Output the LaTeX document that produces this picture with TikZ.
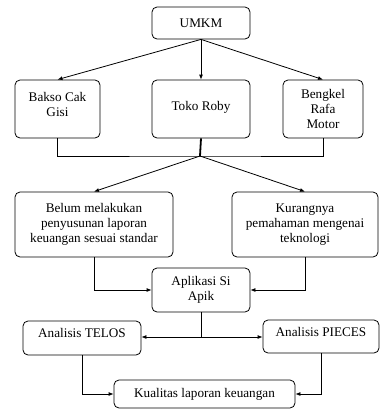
\documentclass[tikz,border=0pt]{standalone}
\usepackage{fontspec}
\setmainfont{Liberation Serif}
\usetikzlibrary{arrows.meta}
\newcommand{\lift}[2]{\raisebox{0pt}[\height][\dimexpr\depth+#1\relax]{\begin{tabular}{@{}c@{}}#2\end{tabular}}}
\begin{document}
\begin{tikzpicture}[x=1pt,y=-1pt,
  box/.style={draw,rounded corners=5pt,align=center,inner sep=1pt,line width=0.8pt,
    font=\fontsize{13.2}{15}\selectfont},
  arr/.style={-{Latex[length=5pt,width=4pt]},line width=0.8pt},
  ln/.style={line width=0.8pt}]
\useasboundingbox (0,0) rectangle (380,410);
\node[box,minimum width=98pt,minimum height=32pt] (umkm) at (201,23) {UMKM};
\node[box,minimum width=85pt,minimum height=58pt] (bakso) at (57.5,109) {\lift{7pt}{Bakso Cak\\Gisi}};
\node[box,minimum width=98pt,minimum height=58pt] (toko) at (201,109) {\lift{4pt}{Toko Roby}};
\node[box,minimum width=80pt,minimum height=58pt] (bengkel) at (323,109) {Bengkel\\Rafa\\Motor};
\node[box,minimum width=158pt,minimum height=65pt] (belum) at (94,224.5) {Belum melakukan\\penyusunan laporan\\keuangan sesuai standar};
\node[box,minimum width=146pt,minimum height=65pt] (kurang) at (305,224.5) {Kurangnya\\pemahaman mengenai\\teknologi};
\node[box,minimum width=98pt,minimum height=44pt] (apik) at (201,290) {Aplikasi Si\\Apik};
\node[box,minimum width=118pt,minimum height=34pt] (telos) at (82,338) {\lift{8pt}{Analisis TELOS}};
\node[box,minimum width=116pt,minimum height=33pt] (pieces) at (321,336.5) {\lift{7pt}{Analisis PIECES}};
\node[box,minimum width=181pt,minimum height=28pt] (kual) at (204.5,394) {Kualitas laporan keuangan};
\coordinate (J) at (200,156);
\coordinate (K) at (201,337);
\draw[arr] (umkm.south) -- (bakso.north);
\draw[arr] (umkm.south) -- (toko.north);
\draw[arr] (umkm.south) -- (bengkel.north);
\draw[ln] (bakso.south) |- (J) -| (bengkel.south);
\draw[line width=1.8pt] (toko.south) -- (J);
\draw[arr] (J) -- (belum.north);
\draw[arr] (J) -- (kurang.north);
\draw[arr] (belum.south) |- (apik.west);
\draw[arr] (kurang.south) |- (apik.east);
\draw[ln] (apik.south) -- (K);
\draw[arr] (K) -- (telos.east |- K);
\draw[arr] (K) -- (pieces.west |- K);
\draw[arr] (telos.south) |- (kual.west);
\draw[arr] (pieces.south) |- (kual.east);
\end{tikzpicture}
\end{document}
